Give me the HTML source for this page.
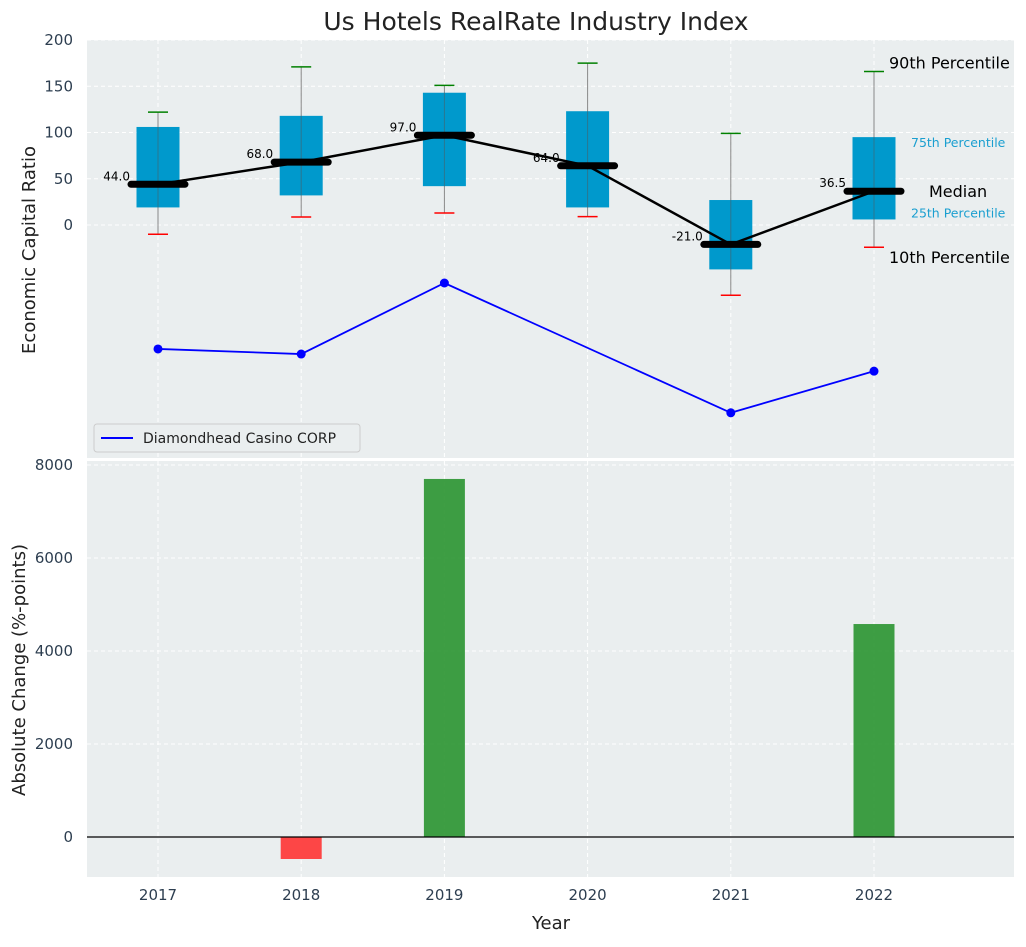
<!DOCTYPE html>
<html><head><meta charset="utf-8"><style>
body{margin:0;background:#fff;font-family:"Liberation Sans","DejaVu Sans",sans-serif;}
svg text{font-family:"DejaVu Sans","Liberation Sans",sans-serif;}
</style></head><body>
<svg id="chart" width="1026" height="942" viewBox="0 0 1026 942" xmlns="http://www.w3.org/2000/svg">
<text x="536" y="30" font-size="25" text-anchor="middle" fill="#222">Us Hotels RealRate Industry Index</text>
<rect x="87" y="40" width="927" height="418" fill="#eaeeef"/>
<rect x="87" y="461" width="927" height="416" fill="#eaeeef"/>
<g id="gtop"></g><g id="gbot"></g>
<text x="35" y="250" font-size="18" fill="#222" text-anchor="middle" transform="rotate(-90 35 250)">Economic Capital Ratio</text>
<text x="25" y="670" font-size="18" fill="#222" text-anchor="middle" transform="rotate(-90 25 670)">Absolute Change (%-points)</text>
<text x="551" y="929" font-size="18" fill="#222" text-anchor="middle">Year</text>
<g>
<rect x="94" y="424" width="266" height="28" rx="3" fill="#eaeeef" stroke="#ccc"/>
<line x1="101" y1="438" x2="133" y2="438" stroke="blue" stroke-width="2"/>
<text x="143" y="443" font-size="14" fill="#222">Diamondhead Casino CORP</text>
</g>
</svg>
<script>
const years=[2017,2018,2019,2020,2021,2022];
const p10=[-10,8.6,13,9,-76,-24];
const p25=[19,32,42,19,-48,6];
const medians=[44,68,97,64,-21,36.5];
const p75=[106,118,143,123,27,95];
const p90=[122,171,151,175,99,166];
const company=[-134,-139.5,-62.7,null,-203,-158];
const changes=[0,-473,7700,0,0,4580];
const topTicks=[0,50,100,150,200];
const botTicks=[0,2000,4000,6000,8000];
const NS='http://www.w3.org/2000/svg';
const X=v=>158+(v-2017)*143.2;
const YT=v=>225-v*0.925;
const YB=v=>837-v*0.0465;
function mk(p,t,a){const e=document.createElementNS(NS,t);for(const k in a)e.setAttribute(k,a[k]);p.appendChild(e);return e;}
const gT=document.getElementById('gtop'),gB=document.getElementById('gbot');
topTicks.forEach(t=>{
 const l=mk(gT,'line',{x1:87,x2:1014,y1:YT(t),y2:YT(t),stroke:'#fff','stroke-dasharray':'4,3','stroke-width':1});
 
 
 const tx=mk(gT,'text',{x:73,y:YT(t)+5,'font-size':15,fill:'#2d3e50','text-anchor':'end'});tx.textContent=t;
 
 
});
botTicks.forEach(t=>{
 const l=mk(gB,'line',{x1:87,x2:1014,y1:YB(t),y2:YB(t),stroke:'#fff','stroke-dasharray':'4,3','stroke-width':1});
 
 
 const tx=mk(gB,'text',{x:73,y:YB(t)+5,'font-size':15,fill:'#2d3e50','text-anchor':'end'});tx.textContent=t;
 
 
});
years.forEach(y=>{
 [[gT,40,458],[gB,461,877]].forEach(([g,a,b])=>{const l=mk(g,'line',{x1:X(y),x2:X(y),y1:a,y2:b,stroke:'#fff','stroke-dasharray':'4,3'});
 
 });
 const tx=mk(gB,'text',{x:X(y),y:900,'font-size':15,fill:'#2d3e50','text-anchor':'middle'});tx.textContent=y;
 
 
});
years.forEach((y,i)=>{
 const x=X(y);
 const w=mk(gT,'line',{x1:x,x2:x,y1:YT(p90[i]),y2:YT(p10[i]),stroke:'#888','stroke-width':1});
 
 
 const b=mk(gT,'rect',{x:x-21.5,y:YT(p75[i]),width:43,height:YT(p25[i])-YT(p75[i]),fill:'#0099cc'});
 
 
 mk(gT,'line',{x1:x,x2:x,y1:YT(p75[i]),y2:YT(p25[i]),stroke:'#555','stroke-width':1,opacity:0.5});
 const c1=mk(gT,'line',{x1:x-10,x2:x+10,y1:YT(p90[i]),y2:YT(p90[i]),stroke:'green','stroke-width':1.5});
 
 
 const c2=mk(gT,'line',{x1:x-10,x2:x+10,y1:YT(p10[i]),y2:YT(p10[i]),stroke:'red','stroke-width':1.5});
 
 
});
const mp=mk(gT,'polyline',{points:years.map((y,i)=>X(y)+','+YT(medians[i])).join(' '),fill:'none',stroke:'#000','stroke-width':2.5});


years.forEach((y,i)=>{
 const x=X(y);
 const m=mk(gT,'line',{x1:x-27,x2:x+27,y1:YT(medians[i]),y2:YT(medians[i]),stroke:'#000','stroke-width':7,'stroke-linecap':'round'});
 
 
 const t=mk(gT,'text',{x:x-28,y:YT(medians[i])-4,'font-size':12,fill:'#000','text-anchor':'end'});
 t.textContent=medians[i].toFixed(1);
 
 
});
const pts=years.map((y,i)=>company[i]==null?null:[X(y),YT(company[i])]).filter(p=>p);
const cl=mk(gT,'polyline',{points:pts.map(p=>p.join(',')).join(' '),fill:'none',stroke:'blue','stroke-width':1.8});


pts.forEach(p=>{const c=mk(gT,'circle',{cx:p[0],cy:p[1],r:4.5,fill:'blue'});
 
 });
const li=years.length-1,lx=X(years[li]);
[[YT(p90[li])-3,'90th Percentile',16,'#000',lx+15],[YT(p10[li])+16,'10th Percentile',16,'#000',lx+15],
 [YT(p75[li])+10,'75th Percentile',12.5,'#1a9fd0',lx+37],[YT(p25[li])-2,'25th Percentile',12.5,'#1a9fd0',lx+37],
 [YT(medians[li])+6,'Median',16,'#000',lx+55]].forEach(a=>{
 const t=mk(gT,'text',{x:a[4],y:a[0],'font-size':a[2],fill:a[3]});t.textContent=a[1];
 
 
});
years.forEach((y,i)=>{
 if(!changes[i])return;
 const v=changes[i];
 const r=mk(gB,'rect',{x:X(y)-20.5,y:Math.min(YB(v),YB(0)),width:41,height:Math.abs(YB(v)-YB(0)),fill:v>0?'#2a9430':'#ff3333',opacity:0.9});
 
 
});
const z=mk(gB,'line',{x1:87,x2:1014,y1:YB(0),y2:YB(0),stroke:'#000','stroke-width':1.2});


</script>
</body></html>
